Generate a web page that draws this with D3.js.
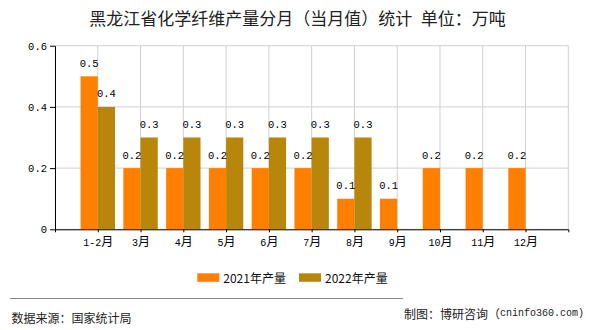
<!DOCTYPE html>
<html><head><meta charset="utf-8">
<script src="https://cdn.jsdelivr.net/npm/d3@7"></script>
<style>body{margin:0;background:#fff}svg{display:block}</style>
</head><body>
<svg id="c" width="590" height="330"></svg>
<script>
const categories = ["1-2月","3月","4月","5月","6月","7月","8月","9月","10月","11月","12月"];
const values2021 = [0.5,0.2,0.2,0.2,0.2,0.2,0.1,0.1,0.2,0.2,0.2];
const values2022 = [0.4,0.3,0.3,0.3,0.3,0.3,0.3,null,null,null,null];
const yTicks = [0,0.2,0.4,0.6];
const seriesNames = ["2021年产量","2022年产量"];
const colors = ["#FF8000","#B8860B"];
const titleText = "黑龙江省化学纤维产量分月（当月值）统计\u2002单位：万吨";
const sourceText = "数据来源：国家统计局";
const creditText = "制图：博研咨询（cninfo360.com)";

const svg = d3.select("#c");
const L = 55, R = 568.3, T = 45.7, B = 229.3;
const x = d3.scalePoint().domain(categories).range([L, R]).padding(1);
const y = d3.scaleLinear().domain([0, 0.6]).range([B, T]);
const bw = 17.2;

const CJK = '"Noto Sans CJK SC", sans-serif';
const MONO = '"Liberation Mono", monospace';
function mixed(sel, str) {
  sel.text(null);
  const runs = str.match(/[\x00-\x7F]+|[^\x00-\x7F]+/g) || [];
  runs.forEach(r => {
    const ascii = /^[\x00-\x7F]+$/.test(r);
    sel.append("tspan")
      .attr("font-family", ascii ? MONO : CJK)
      .attr("font-size", ascii ? 10 : 12)
      .text(r);
  });
}

// grid
const g = svg.append("g");
g.selectAll(".hg").data(yTicks).join("line")
  .attr("x1", L).attr("x2", R).attr("y1", d => y(d)).attr("y2", d => y(d))
  .attr("stroke", "#d0d0d0").attr("stroke-width", 1);
g.selectAll(".vg").data(categories.map(c => x(c)).concat([x.range()[1]])).join("line")
  .attr("x1", d => d).attr("x2", d => d).attr("y1", T).attr("y2", B)
  .attr("stroke", "#d0d0d0").attr("stroke-width", 1);

// bars
const bars = svg.append("g");
bars.selectAll(".b1").data(categories.map((c, i) => ({c, v: values2021[i]}))).join("rect")
  .attr("x", d => x(d.c) - bw).attr("width", bw)
  .attr("y", d => y(d.v)).attr("height", d => y(0) - y(d.v))
  .attr("fill", colors[0]);
bars.selectAll(".b2").data(categories.map((c, i) => ({c, v: values2022[i]})).filter(d => d.v != null)).join("rect")
  .attr("x", d => x(d.c)).attr("width", bw)
  .attr("y", d => y(d.v)).attr("height", d => y(0) - y(d.v))
  .attr("fill", colors[1]);

// value labels
const lab = svg.append("g").attr("fill", "#000");
categories.forEach((c, i) => {
  const v1 = values2021[i];
  lab.append("text").attr("x", x(c) - bw / 2).attr("y", y(v1) - 9.5)
    .attr("text-anchor", "middle").attr("font-family", MONO).attr("font-size", 10.5).text(String(v1));
  const v2 = values2022[i];
  if (v2 != null) {
    lab.append("text").attr("x", x(c) + bw / 2).attr("y", y(v2) - 9.5)
      .attr("text-anchor", "middle").attr("font-family", MONO).attr("font-size", 10.5).text(String(v2));
  }
});

// axes
const ya = svg.append("g").attr("transform", `translate(${L},0)`)
  .call(d3.axisLeft(y).tickValues(yTicks).tickSize(5).tickSizeOuter(0).tickPadding(3).tickFormat(d => String(d)));
ya.select(".domain").attr("stroke", "#000");
ya.selectAll(".tick line").attr("stroke", "#000");
ya.selectAll(".tick text").attr("font-family", MONO).attr("font-size", 10.5).attr("fill", "#000").attr("dy", "0.35em");

const xa = svg.append("g").attr("transform", `translate(0,${B})`)
  .call(d3.axisBottom(x).tickSize(3).tickSizeOuter(3).tickPadding(5));
xa.select(".domain").attr("stroke", "#000");
xa.selectAll(".tick line").attr("stroke", "#000");
xa.selectAll(".tick text").attr("fill", "#000").attr("dy", "0.85em").each(function(d) { mixed(d3.select(this), d); });

// title
svg.append("text").attr("x", 297.5).attr("y", 17.5).attr("text-anchor", "middle")
  .attr("dominant-baseline", "central").attr("font-family", CJK).attr("font-size", 17)
  .attr("fill", "#222").text(titleText);

// legend
const lg = svg.append("g");
const legX = [197.3, 299];
seriesNames.forEach((n, i) => {
  lg.append("rect").attr("x", legX[i]).attr("y", 273.3).attr("width", 22).attr("height", 8.5).attr("fill", colors[i]);
  lg.append("text").attr("x", legX[i] + 26).attr("y", 277.6).attr("dominant-baseline", "central")
    .attr("font-family", CJK).attr("font-size", 12).attr("fill", "#111").text(n);
});

// footer
svg.append("line").attr("x1", 10).attr("x2", 403).attr("y1", 298.5).attr("y2", 298.5)
  .attr("stroke", "#888").attr("stroke-width", 1);
svg.append("text").attr("x", 11.5).attr("y", 317).attr("dominant-baseline", "central")
  .attr("font-family", CJK).attr("font-size", 12).attr("fill", "#222").text(sourceText);
const cr = svg.append("text").attr("x", 404).attr("y", 313).attr("dominant-baseline", "central").attr("fill", "#222");
mixed(cr, creditText);
</script>
</body></html>
